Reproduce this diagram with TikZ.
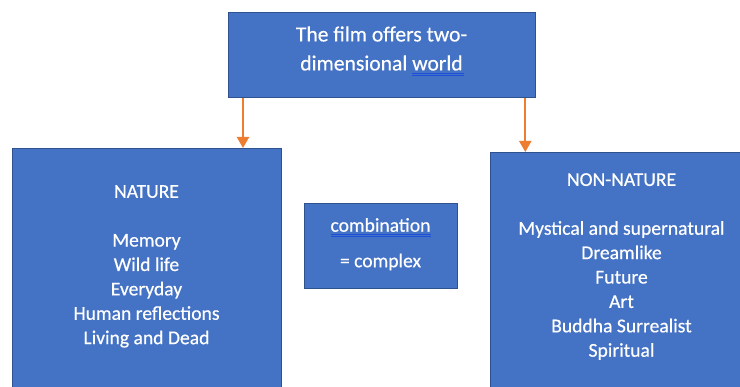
\documentclass[tikz,border=0pt]{standalone}
\usepackage{fontspec}
\setmainfont{Carlito}[FakeBold=0.5]
\usetikzlibrary{arrows.meta}
\definecolor{boxfill}{HTML}{4472C4}
\definecolor{boxline}{HTML}{2F528F}
\definecolor{arrowc}{HTML}{ED7D31}
\definecolor{squiggle}{HTML}{1F4FD6}
\tikzset{
  panel/.style={draw=boxline, line width=1.3pt, fill=boxfill, rectangle, inner sep=0pt},
  label/.style={text=white, align=center, inner sep=0pt, font=\fontsize{19.6}{24.4}\selectfont},
  headlabel/.style={text=white, align=center, inner sep=0pt, font=\fontsize{21.6}{29}\selectfont},
  arr/.style={draw=arrowc, line width=2.2pt, -{Triangle[width=12pt,length=11pt]}},
  spell/.style={draw=squiggle, line width=0.6pt}
}
\begin{document}
\begin{tikzpicture}[x=1pt,y=-1pt]
\useasboundingbox (0,0) rectangle (740,387);
% boxes
\node[panel, minimum width=307pt, minimum height=85pt, anchor=north west] (top) at (228,12) {};
\node[panel, minimum width=269pt, minimum height=270pt, anchor=north west] (nature) at (12,148) {};
\node[panel, minimum width=263pt, minimum height=270pt, anchor=north west] (nonnature) at (490,152) {};
\node[panel, minimum width=153pt, minimum height=85pt, anchor=north west] (combo) at (304,203) {};
% texts
\node[headlabel] (toptext) at (381.5,48.5) {The film offers two-\\dimensional world};
\node[label, anchor=north] (natext) at (146.5,185) {NATURE\\[24.4pt]Memory\\Wild life\\Everyday\\Human reflections\\Living and Dead};
\node[label, anchor=north] (nontext) at (621.5,173) {NON-NATURE\\[24.4pt]Mystical and supernatural\\Dreamlike\\Future\\Art\\Buddha Surrealist\\Spiritual};
\node[label] (combo1) at (380.5,225) {combination};
\node[label] (combo2) at (380.5,262) {= complex};
% spelling marks under two words
\draw[spell] (412,73.5) -- (464,73.5);
\draw[spell] (412,75.3) -- (464,75.3);
\draw[spell] (331,234.5) -- (431,234.5);
\draw[spell] (331,236.3) -- (431,236.3);
% arrows
\draw[arr] ([xshift=15pt]top.south west) -- ([xshift=15pt]top.south west |- nature.north);
\draw[arr] ([xshift=-11pt]top.south east) -- ([xshift=-11pt]top.south east |- nonnature.north);
\end{tikzpicture}
\end{document}
